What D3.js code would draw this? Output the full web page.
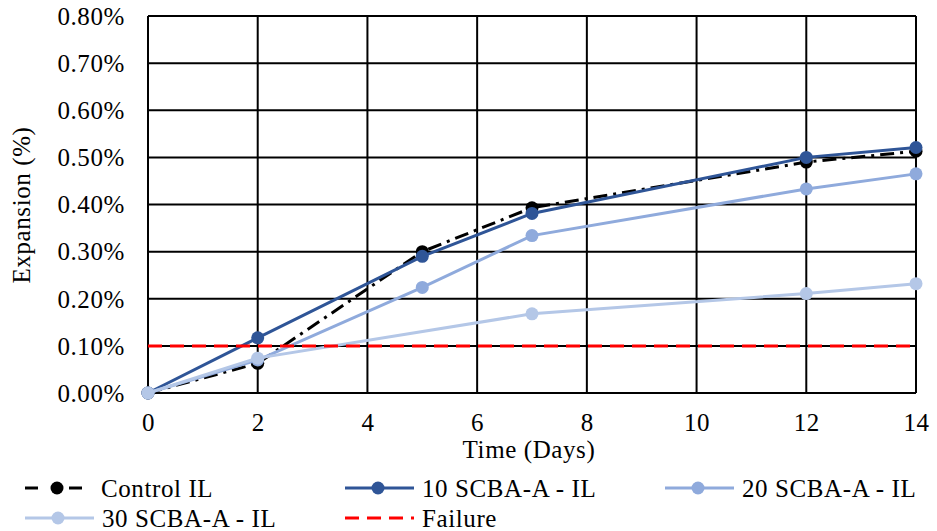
<!DOCTYPE html>
<html><head><meta charset="utf-8">
<script src="https://cdn.jsdelivr.net/npm/d3@7"></script>
<style>
body{margin:0;background:#fff}
text{font-family:"Liberation Serif","Times New Roman",serif;fill:#000;letter-spacing:0.6px}
</style>
</head><body><svg id="c" width="937" height="531"></svg>
<script>
// ---- data ----
const seriesNames = ["Control IL", "10 SCBA-A - IL", "20 SCBA-A - IL", "30 SCBA-A - IL", "Failure"];
const controlDays = [0, 2, 5, 7, 12, 14];
const controlVals = [0, 0.063, 0.300, 0.393, 0.490, 0.513];
const scba10Days = [0, 2, 5, 7, 12, 14];
const scba10Vals = [0, 0.117, 0.290, 0.381, 0.500, 0.521];
const scba20Days = [0, 2, 5, 7, 12, 14];
const scba20Vals = [0, 0.070, 0.224, 0.334, 0.433, 0.465];
const scba30Days = [0, 2, 7, 12, 14];
const scba30Vals = [0, 0.074, 0.168, 0.211, 0.232];
const failureDays = [0, 14];
const failureVals = [0.10, 0.10];
const xTickVals = [0, 2, 4, 6, 8, 10, 12, 14];
const yTickVals = [0, 0.1, 0.2, 0.3, 0.4, 0.5, 0.6, 0.7, 0.8];

// ---- styles ----
const styles = [
  {color: "#000000", dash: "14,6,3,6", marker: true},
  {color: "#2F5597", dash: null, marker: true},
  {color: "#8FAADC", dash: null, marker: true},
  {color: "#B4C7E7", dash: null, marker: true},
  {color: "#FF0000", dash: "14,8", marker: false}
];
const seriesData = [
  [controlDays, controlVals], [scba10Days, scba10Vals], [scba20Days, scba20Vals],
  [scba30Days, scba30Vals], [failureDays, failureVals]
].map(([d, v]) => d.map((x, i) => ({x, y: v[i]})));

const svg = d3.select("#c");
const L = 148, R = 916, T = 16, B = 393;
const x = d3.scaleLinear().domain([0, 14]).range([L, R]);
const y = d3.scaleLinear().domain([0, 0.8]).range([B, T]);
const FS = 25;

// grid
const g = svg.append("g");
g.selectAll(".hg").data(yTickVals).join("line")
  .attr("x1", L).attr("x2", R).attr("y1", d => y(d)).attr("y2", d => y(d))
  .attr("stroke", "#000").attr("stroke-width", 2);
g.selectAll(".vg").data(xTickVals).join("line")
  .attr("y1", T).attr("y2", B).attr("x1", d => x(d)).attr("x2", d => x(d))
  .attr("stroke", "#000").attr("stroke-width", 2);

// axes via d3
const yAxis = svg.append("g").attr("transform", `translate(${L},0)`)
  .call(d3.axisLeft(y).tickValues(yTickVals).tickSize(0).tickPadding(23)
    .tickFormat(d => d3.format(".2f")(d) + "%"));
yAxis.select(".domain").remove();
yAxis.selectAll("text").attr("font-size", FS).attr("font-family", "Liberation Serif").attr("dy", "0.33em");

const xAxis = svg.append("g").attr("transform", `translate(0,${B})`)
  .call(d3.axisBottom(x).tickValues(xTickVals).tickSize(0).tickPadding(20));
xAxis.select(".domain").remove();
xAxis.selectAll("text").attr("font-size", FS).attr("font-family", "Liberation Serif");

// axis titles
svg.append("text").attr("x", 529).attr("y", 458).attr("text-anchor", "middle")
  .attr("font-size", FS).text("Time (Days)");
svg.append("text").attr("transform", "translate(30,205) rotate(-90)")
  .attr("text-anchor", "middle").attr("font-size", FS).text("Expansion (%)");

// lines
const line = d3.line().x(d => x(d.x)).y(d => y(d.y));
[0, 1, 2, 3, 4].forEach(i => {
  const s = styles[i];
  const gg = svg.append("g");
  gg.append("path").datum(seriesData[i]).attr("d", line)
    .attr("fill", "none").attr("stroke", s.color).attr("stroke-width", 3)
    .attr("stroke-dasharray", s.dash);
  if (s.marker) {
    gg.selectAll("circle").data(seriesData[i]).join("circle")
      .attr("cx", d => x(d.x)).attr("cy", d => y(d.y)).attr("r", 6.5)
      .attr("fill", s.color);
  }
});

// legend
const legendPos = [
  {lx: 25, ly: 488}, {lx: 345, ly: 488}, {lx: 665, ly: 488},
  {lx: 25, ly: 518}, {lx: 345, ly: 518}
];
seriesNames.forEach((name, i) => {
  const s = styles[i], p = legendPos[i];
  const lg = svg.append("g");
  if (i === 0) {
    lg.append("line").attr("x1", p.lx).attr("x2", p.lx + 13).attr("y1", p.ly).attr("y2", p.ly)
      .attr("stroke", s.color).attr("stroke-width", 3);
    lg.append("line").attr("x1", p.lx + 44).attr("x2", p.lx + 57).attr("y1", p.ly).attr("y2", p.ly)
      .attr("stroke", s.color).attr("stroke-width", 3);
  } else {
    lg.append("line").attr("x1", p.lx).attr("x2", p.lx + 69).attr("y1", p.ly).attr("y2", p.ly)
      .attr("stroke", s.color).attr("stroke-width", 3).attr("stroke-dasharray", s.dash);
  }
  if (s.marker) {
    lg.append("circle").attr("cx", p.lx + (i === 0 ? 32 : 33)).attr("cy", p.ly).attr("r", 6.5).attr("fill", s.color);
  }
  lg.append("text").attr("x", i === 0 ? p.lx + 76 : p.lx + 77).attr("y", p.ly + 9)
    .attr("font-size", FS).text(name);
});
</script>
</body></html>
